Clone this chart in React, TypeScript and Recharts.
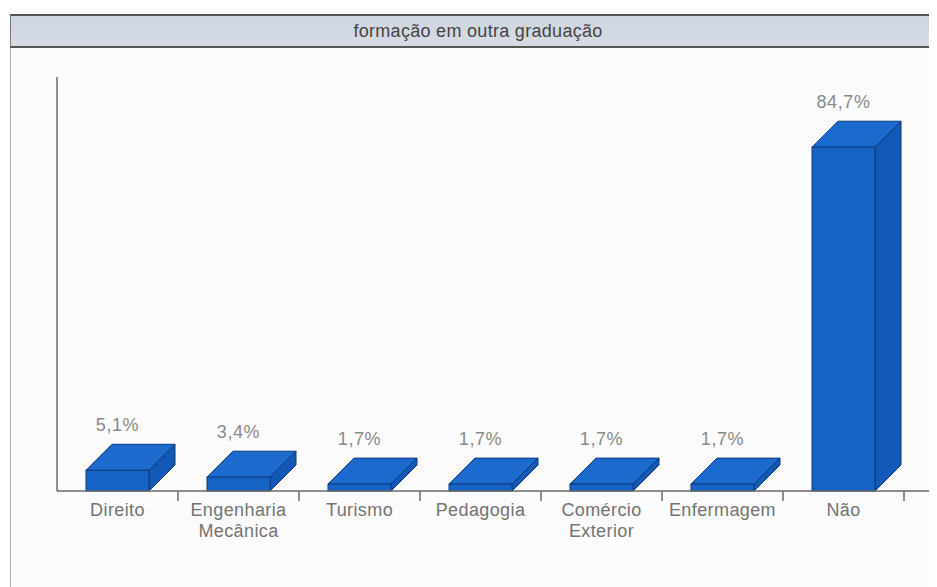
import React from "react";
import { BarChart, Bar, XAxis, YAxis, LabelList } from "recharts";

const categories: string[] = ["Direito", "Engenharia\nMecânica", "Turismo", "Pedagogia", "Comércio\nExterior", "Enfermagem", "Não"];
const percentages: number[] = [5.1, 3.4, 1.7, 1.7, 1.7, 1.7, 84.7];
const valueLabels: string[] = ["5,1%", "3,4%", "1,7%", "1,7%", "1,7%", "1,7%", "84,7%"];
const chartTitle = "formação em outra graduação";

const data = categories.map((c, i) => ({ name: c, value: percentages[i], label: valueLabels[i] }));

const DX = 26;
const DY = 26;
const FONT = "'Liberation Sans', Arial, sans-serif";

const Bar3D = (props: any) => {
  const { x, y, width, height } = props;
  const edge = "#0d3a7c";
  const top = `${x},${y} ${x + DX},${y - DY} ${x + width + DX},${y - DY} ${x + width},${y}`;
  const side = `${x + width},${y} ${x + width + DX},${y - DY} ${x + width + DX},${y + height - DY} ${x + width},${y + height}`;
  return (
    <g>
      <polygon points={side} fill="#1258b6" stroke={edge} strokeWidth={1} strokeLinejoin="round" />
      <polygon points={top} fill="#1c6acd" stroke={edge} strokeWidth={1} strokeLinejoin="round" />
      <rect x={x} y={y} width={width} height={height} fill="#1663c6" stroke={edge} strokeWidth={1} />
    </g>
  );
};

const renderLabel = (props: any) => {
  const { x, y, width, index } = props;
  return (
    <text x={x + width / 2} y={y - 39} textAnchor="middle" fill="#8a8a8a" fontSize={18} letterSpacing={0.6} fontFamily={FONT}>
      {valueLabels[index]}
    </text>
  );
};

const BAND = 121;

const CatTick = (props: any) => {
  const { x, y, payload, index } = props;
  const lines = String(payload.value).split("\n");
  const isLast = index === categories.length - 1;
  return (
    <g>
      <line x1={x + BAND / 2} y1={y} x2={x + BAND / 2} y2={y + 10} stroke="#6a6a6a" strokeWidth={1.5} />
      {isLast && <line x1={x + BAND / 2} y1={y} x2={x + BAND / 2 + 40} y2={y} stroke="#6a6a6a" strokeWidth={1.5} />}
      <text x={x} y={y + 25} textAnchor="middle" fill="#747474" fontSize={18} letterSpacing={0.4} fontFamily={FONT}>
        {lines.map((l, i) => (
          <tspan key={i} x={x} dy={i === 0 ? 0 : 21}>{l}</tspan>
        ))}
      </text>
    </g>
  );
};

export default function App() {
  return (
    <div style={{ position: "relative", width: 929, height: 579, background: "#fbfbfb", overflow: "hidden" }}>
      <div style={{ position: "absolute", left: 2, top: 6, bottom: 0, width: 0, borderLeft: "1.5px solid #b0b0b0" }} />
      <div
        style={{
          position: "absolute",
          left: 2,
          top: 6,
          width: 940,
          height: 30,
          borderTop: "2px solid #555",
          borderBottom: "2px solid #555",
          borderLeft: "1.5px solid #777",
          background: "linear-gradient(#cfd6e1, #d6dbe3)",
        }}
      >
        <div
          style={{
            position: "absolute",
            left: 469 - 2 - 200,
            width: 400,
            top: 5,
            textAlign: "center",
            fontFamily: FONT,
            fontSize: 18,
            letterSpacing: 0.3,
            color: "#444",
          }}
        >
          {chartTitle}
        </div>
      </div>
      <div style={{ position: "absolute", left: 0, top: 0 }}>
        <BarChart width={929} height={579} data={data} margin={{ top: 69, right: 33, bottom: 56, left: 47 }} barSize={63}>
          <YAxis width={2} domain={[0, 102]} tick={false} tickLine={false} axisLine={{ stroke: "#6a6a6a", strokeWidth: 1.5 }} />
          <XAxis
            dataKey="name"
            interval={0}
            height={40}
            tickSize={0}
            tickMargin={0}
            tickLine={false}
            axisLine={{ stroke: "#6a6a6a", strokeWidth: 1.5 }}
            tick={<CatTick />}
          />
          <Bar dataKey="value" shape={<Bar3D />} isAnimationActive={false}>
            <LabelList dataKey="label" content={renderLabel} />
          </Bar>
        </BarChart>
      </div>
    </div>
  );
}
